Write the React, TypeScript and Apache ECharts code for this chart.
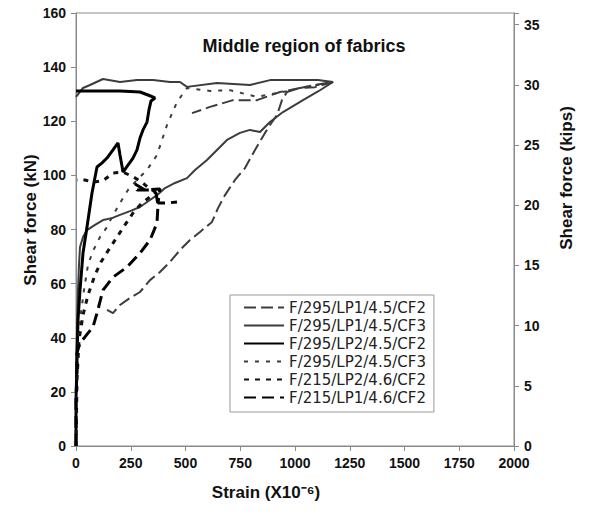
import React, { useEffect, useRef } from "react";
import * as echarts from "echarts";

// Strain (x10^-6) vs shear force (kN) pairs for each specimen
const f295Lp1Cf2: [number, number][] = [
  [141.5, 50.3], [168.9, 49.1], [200.9, 52.1], [246.6, 54.7], [292.2, 56.9], [337.9, 61.3],
  [383.5, 64.3], [429.2, 68.0], [474.9, 72.4], [520.5, 76.1], [566.2, 79.1], [621.0, 82.8],
  [648.4, 87.9], [680.3, 92.7], [726.0, 98.3], [771.7, 102.7], [817.3, 109.4], [863.0, 115.7],
  [894.9, 119.7], [917.8, 122.3], [940.6, 127.8], [963.4, 130.8], [1022.8, 132.3],
  [1091.3, 133.4], [1173.5, 134.5], [1091.3, 132.6], [1022.8, 132.3], [931.5, 130.8],
  [826.4, 127.8], [716.9, 127.8], [611.8, 125.3], [529.7, 123.0],
];

const f295Lp1Cf3: [number, number][] = [
  [0, 0], [0, 24.4], [4.6, 42.9], [9.1, 57.6], [13.7, 66.9], [18.3, 73.5], [32.0, 77.2],
  [50.2, 79.8], [86.8, 81.7], [123.3, 83.5], [164.4, 84.2], [200.9, 85.4], [246.6, 86.8],
  [292.2, 88.3], [337.9, 90.9], [369.8, 92.7], [406.4, 95.3], [452.0, 97.2], [506.8, 99.0],
  [543.4, 102.0], [598.1, 105.7], [643.8, 109.4], [689.5, 113.1], [748.8, 115.7],
  [794.5, 116.8], [840.1, 116.0], [885.8, 119.7], [945.2, 123.4], [1036.5, 127.8],
  [1105.0, 131.0], [1173.5, 134.5], [1105.0, 135.2], [1036.5, 135.2], [885.8, 135.2],
  [794.5, 133.4], [643.8, 134.1], [506.8, 132.7], [474.9, 134.5], [429.2, 134.5],
  [352.0, 135.2], [278.5, 135.2], [200.9, 134.5], [123.3, 135.6], [63.9, 133.4],
  [32.0, 132.3], [0, 129.0],
];

const f295Lp2Cf2: [number, number][] = [
  [0, 0], [0, 17.0], [4.6, 31.8], [9.1, 46.6], [18.3, 57.6], [32.0, 71.3], [50.2, 80.9],
  [73.0, 93.5], [95.9, 103.1], [119.0, 104.6], [141.5, 106.4], [168.9, 109.4], [191.8, 112.0],
  [200.9, 107.5], [210.0, 103.5], [214.6, 101.2], [237.4, 103.8], [260.3, 106.4],
  [278.5, 109.4], [292.2, 113.8], [306.0, 116.8], [324.2, 119.7], [333.0, 124.1],
  [342.5, 127.5], [360.7, 128.6], [328.8, 129.7], [292.2, 130.8], [200.9, 131.2],
  [109.6, 131.2], [0, 131.2],
];

const f295Lp2Cf3: [number, number][] = [
  [0, 0], [0, 17.0], [9.1, 35.5], [18.3, 46.6], [36.5, 57.6], [54.8, 66.9], [77.6, 72.1],
  [109.6, 77.2], [141.5, 80.9], [164.4, 84.6], [200.9, 89.8], [237.4, 94.6], [278.5, 98.3],
  [324.2, 102.0], [369.8, 107.5], [415.5, 118.6], [461.2, 127.1], [484.0, 129.7],
  [506.8, 132.3], [612.0, 131.2], [703.0, 131.5], [826.0, 129.0], [945.2, 130.8],
  [1068.0, 133.0], [1150.0, 134.0],
];

const f215Lp2Cf2: [number, number][] = [
  [0, 0], [4.6, 24.4], [13.7, 39.2], [32.0, 48.4], [54.8, 55.8], [86.8, 63.2], [114.2, 68.0],
  [146.1, 72.1], [187.2, 77.2], [223.7, 81.7], [260.3, 86.1], [301.4, 89.8], [337.9, 92.0],
  [360.0, 94.0], [329.0, 95.5], [301.4, 97.5], [260.3, 99.5], [214.6, 101.2], [168.9, 100.9],
  [123.3, 98.0], [77.6, 97.5], [41.1, 98.3], [4.6, 98.3],
];

const f215Lp1Cf2: [number, number][] = [
  [0, 0], [0, 17.0], [4.6, 28.1], [4.6, 34.4], [18.3, 38.1], [41.1, 40.3], [77.6, 44.0],
  [95.9, 49.1], [123.3, 57.6], [168.9, 62.4], [232.9, 66.1], [292.2, 71.3], [337.9, 76.1],
  [369.8, 82.4], [374.4, 89.1], [365.3, 93.5], [337.9, 94.6], [278.5, 94.6], [269.4, 96.8],
  [315.1, 94.6], [383.5, 95.0], [374.4, 89.8], [420.1, 89.8], [461.2, 90.2],
];

const seriesNames = [
  "F/295/LP1/4.5/CF2",
  "F/295/LP1/4.5/CF3",
  "F/295/LP2/4.5/CF2",
  "F/295/LP2/4.5/CF3",
  "F/215/LP2/4.6/CF2",
  "F/215/LP1/4.6/CF2",
];

const seriesData = [f295Lp1Cf2, f295Lp1Cf3, f295Lp2Cf2, f295Lp2Cf3, f215Lp2Cf2, f215Lp1Cf2];

const lineStyles = [
  { color: "#3c3c3c", width: 2, type: [12, 5] },
  { color: "#3c3c3c", width: 2, type: "solid" },
  { color: "#000000", width: 3, type: "solid" },
  { color: "#3c3c3c", width: 2, type: [4, 7] },
  { color: "#111111", width: 3, type: [5, 6] },
  { color: "#000000", width: 3, type: [12, 6] },
];

const xTicks = { min: 0, max: 2000, interval: 250 };
const kNRange = { min: 0, max: 160, interval: 20 };
const KN_PER_KIP = 4.448;

const FONT = "'Liberation Sans', Arial, sans-serif";

export default function App() {
  const ref = useRef<HTMLDivElement>(null);

  useEffect(() => {
    if (!ref.current) return;
    const chart = echarts.init(ref.current, undefined, { renderer: "svg" });

    const axisLine = { show: true, lineStyle: { color: "#8a8a8a", width: 1 } };
    const axisTick = { show: true, inside: false, length: 5, lineStyle: { color: "#8a8a8a" } };
    const tickLabel = {
      color: "#111",
      fontFamily: FONT,
      fontWeight: "bold" as const,
      fontSize: 14,
      formatter: (v: number) => String(v),
    };

    chart.setOption({
      animation: false,
      backgroundColor: "#ffffff",
      grid: { left: 76, right: 75, top: 13, bottom: 72, show: true, borderColor: "#8a8a8a", borderWidth: 1 },
      xAxis: {
        type: "value",
        ...xTicks,
        axisLine,
        axisTick,
        splitLine: { show: false },
        axisLabel: { ...tickLabel, margin: 10 },
      },
      yAxis: [
        {
          type: "value",
          ...kNRange,
          axisLine,
          axisTick,
          splitLine: { show: false },
          axisLabel: { ...tickLabel, margin: 10 },
        },
        {
          type: "value",
          position: "right",
          min: 0,
          max: kNRange.max / KN_PER_KIP,
          interval: 5,
          axisLine,
          axisTick,
          splitLine: { show: false },
          axisLabel: {
            ...tickLabel,
            margin: 10,
            formatter: (v: number) => (Math.abs(v - Math.round(v)) < 1e-6 ? String(v) : ""),
          },
        },
      ],
      legend: {
        orient: "vertical",
        left: 230,
        top: 295,
        data: seriesNames,
        itemWidth: 40,
        itemHeight: 14,
        itemGap: 3,
        padding: [5, 8, 7, 13],
        backgroundColor: "#ffffff",
        borderColor: "#999999",
        borderWidth: 1,
        itemStyle: { opacity: 0 },
        textStyle: {
          color: "#222",
          fontFamily: "'DejaVu Sans', sans-serif",
          fontSize: 15,
          lineHeight: 15,
        },
      },
      graphic: [
        {
          type: "text",
          x: 304,
          y: 46,
          style: {
            text: "Middle region of fabrics",
            fill: "#111",
            font: `bold 18px ${FONT}`,
            align: "center",
            verticalAlign: "middle",
          },
        },
        {
          type: "text",
          x: 266,
          y: 492,
          style: {
            text: "Strain (X10⁻⁶)",
            fill: "#111",
            font: `bold 17px ${FONT}`,
            align: "center",
            verticalAlign: "middle",
          },
        },
        {
          type: "text",
          x: 30,
          y: 220,
          rotation: Math.PI / 2,
          style: {
            text: "Shear force (kN)",
            fill: "#111",
            font: `bold 17px ${FONT}`,
            align: "center",
            verticalAlign: "middle",
          },
        },
        {
          type: "text",
          x: 566,
          y: 178,
          rotation: Math.PI / 2,
          style: {
            text: "Shear force (kips)",
            fill: "#111",
            font: `bold 17px ${FONT}`,
            align: "center",
            verticalAlign: "middle",
          },
        },
      ],
      series: seriesNames.map((name, i) => ({
        name,
        type: "line",
        yAxisIndex: 0,
        data: seriesData[i],
        symbol: "none",
        showSymbol: false,
        smooth: false,
        lineStyle: lineStyles[i],
        itemStyle: { color: lineStyles[i].color },
        z: 2,
      })),
    });

    return () => chart.dispose();
  }, []);

  return <div ref={ref} style={{ width: 589, height: 518, margin: -8 }} />;
}
